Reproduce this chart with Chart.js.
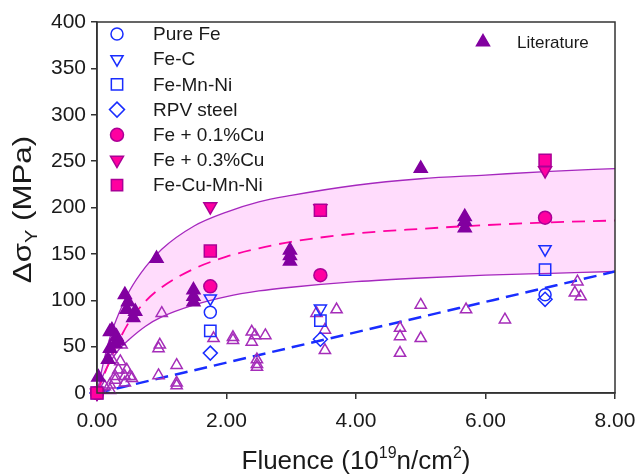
<!DOCTYPE html>
<html>
<head>
<meta charset="utf-8">
<script src="https://cdn.jsdelivr.net/npm/chart.js@4.4.1/dist/chart.umd.min.js"></script>
<style>
  html, body { margin: 0; padding: 0; background: #fff; }
  #wrap { width: 638px; height: 474px; }
</style>
</head>
<body>
<div id="wrap"><canvas id="myChart"></canvas></div>
<script>
// fitted trend curves
const curveX = [0, 0.1, 0.2, 0.35, 0.5, 0.75, 1, 1.5, 2, 2.5, 3, 4, 5, 6, 7, 8];
const upperBand = [0, 33, 60, 88, 110, 136, 155, 180, 195, 206, 213, 224, 231, 235, 239, 242];
const lowerBand = [0, 20, 33, 48, 58, 72, 82, 95, 104, 110, 114, 120, 124, 127, 129, 131];
const cuTrend = [0, 18, 35, 58, 77, 99, 114, 134, 147, 156, 163, 172, 177, 181, 184, 186];
const noCuX = [0, 8];
const noCuTrend = [0, 131];

// measured alloys
const pureFeX = [0, 1.75, 6.92];
const pureFeY = [0, 87, 106];
const feCX = [0, 1.75, 3.45, 6.92];
const feCY = [0, 102, 91, 155];
const feMnNiX = [0, 1.75, 3.45, 6.92];
const feMnNiY = [0, 67, 78, 133];
const rpvX = [0, 1.75, 3.45, 6.92];
const rpvY = [0, 43, 58, 101];
const cu01X = [0, 1.75, 3.45, 6.92];
const cu01Y = [0, 115, 127, 189];
const cu03X = [0, 1.75, 3.45, 6.92];
const cu03Y = [0, 201, 199, 240];
const cuMnNiX = [0, 1.75, 3.45, 6.92];
const cuMnNiY = [0, 153, 197, 251];

// literature (filled = Cu containing, open = low Cu)
const litFilledX = [0.02, 0.17, 0.2, 0.2, 0.23, 0.28, 0.3, 0.33, 0.43, 0.46, 0.48, 0.56, 0.59, 0.92, 1.49, 1.49, 1.49, 2.98, 2.98, 2.98, 5.0, 5.68, 5.68, 5.68];
const litFilledY = [17, 36, 48, 66, 68, 53, 61, 56, 106, 90, 98, 81, 88, 145, 111, 104, 98, 154, 148, 142, 242, 190, 185, 178];
const litOpenX = [0.12, 0.2, 0.2, 0.23, 0.28, 0.28, 0.33, 0.36, 0.38, 0.43, 0.43, 0.46, 0.51, 0.54, 0.95, 0.95, 0.97, 1.0, 1.23, 1.23, 1.23, 1.8, 2.1, 2.1, 2.39, 2.44, 2.39, 2.6, 2.47, 2.47, 2.47, 3.39, 3.52, 3.52, 3.7, 4.68, 4.68, 4.68, 5.0, 5.0, 5.7, 6.3, 7.42, 7.38, 7.47];
const litOpenY = [7, 9, 3, 36, 18, 14, 25, 34, 52, 11, 18, 25, 18, 16, 19, 48, 52, 86, 30, 11, 8, 59, 57, 60, 66, 62, 55, 62, 36, 31, 28, 86, 68, 46, 90, 70, 61, 43, 95, 59, 90, 79, 120, 108, 104];

const BLUE = 'rgb(25, 45, 255)';
const PINK = 'rgb(255, 0, 160)';
const PINK_EDGE = 'rgb(170, 0, 150)';
const PURPLE = 'rgb(130, 0, 160)';
const PURPLE_OPEN = 'rgb(165, 45, 185)';
const BAND_LINE = 'rgb(165, 40, 190)';
const BAND_FILL = 'rgb(255, 220, 252)';

const pts = (xs, ys) => xs.map((x, i) => ({ x: x, y: ys[i] }));

function marker(label, xs, ys, style, radius, fill, edge, rot) {
    return {
        label: label,
        data: pts(xs, ys),
        pointStyle: style,
        pointRadius: radius,
        pointRotation: rot || 0,
        pointBackgroundColor: fill,
        pointBorderColor: edge,
        pointBorderWidth: 1.5,
        showLine: false,
        clip: false
    };
}

function curve(xs, ys, color, width, dash) {
    return {
        type: 'line',
        data: pts(xs, ys),
        borderColor: color,
        borderWidth: width,
        borderDash: dash || [],
        pointRadius: 0,
        cubicInterpolationMode: 'monotone',
        fill: false
    };
}

const datasets = [
    marker('Fe-Cu-Mn-Ni', cuMnNiX, cuMnNiY, 'rect', 8.5, PINK, PINK_EDGE),
    marker('Fe + 0.3%Cu', cu03X, cu03Y, 'triangle', 7.5, PINK, PINK_EDGE, 180),
    marker('Fe + 0.1%Cu', cu01X, cu01Y, 'circle', 6.5, PINK, PINK_EDGE),
    marker('RPV steel', rpvX, rpvY, 'rectRot', 7, 'rgba(255,255,255,0)', BLUE),
    marker('Fe-Mn-Ni', feMnNiX, feMnNiY, 'rect', 8, 'rgba(255,255,255,0)', BLUE),
    marker('Fe-C', feCX, feCY, 'triangle', 7, 'rgba(255,255,255,0)', BLUE, 180),
    marker('Pure Fe', pureFeX, pureFeY, 'circle', 6, 'rgba(255,255,255,0)', BLUE),
    marker('Literature', litFilledX, litFilledY, 'triangle', 7.5, PURPLE, PURPLE),
    marker('Literature (open)', litOpenX, litOpenY, 'triangle', 6.5, 'rgba(255,255,255,0)', PURPLE_OPEN),
    curve(noCuX, noCuTrend, BLUE, 2.5, [13, 7]),
    curve(curveX, cuTrend, PINK, 1.8, [13, 8]),
    Object.assign(curve(curveX, upperBand, BAND_LINE, 1.3), { fill: '+1', backgroundColor: BAND_FILL }),
    curve(curveX, lowerBand, BAND_LINE, 1.3)
];

const legendItems = [
    { text: 'Pure Fe', style: 'circle', r: 6, fill: 'rgba(0,0,0,0)', edge: BLUE, rot: 0 },
    { text: 'Fe-C', style: 'triangle', r: 7, fill: 'rgba(0,0,0,0)', edge: BLUE, rot: 180 },
    { text: 'Fe-Mn-Ni', style: 'rect', r: 8, fill: 'rgba(0,0,0,0)', edge: BLUE, rot: 0 },
    { text: 'RPV steel', style: 'rectRot', r: 7.5, fill: 'rgba(0,0,0,0)', edge: BLUE, rot: 0 },
    { text: 'Fe + 0.1%Cu', style: 'circle', r: 6.5, fill: PINK, edge: PINK_EDGE, rot: 0 },
    { text: 'Fe + 0.3%Cu', style: 'triangle', r: 7.5, fill: PINK, edge: PINK_EDGE, rot: 180 },
    { text: 'Fe-Cu-Mn-Ni', style: 'rect', r: 8, fill: PINK, edge: PINK_EDGE, rot: 0 }
];

const FONT = '"Liberation Sans", Arial, sans-serif';

function drawSymbol(ctx, item, x, y) {
    ctx.save();
    ctx.fillStyle = item.fill;
    ctx.strokeStyle = item.edge;
    ctx.lineWidth = 1.5;
    Chart.helpers.drawPoint(ctx, { pointStyle: item.style, radius: item.r, rotation: item.rot, borderWidth: 1.5 }, x, y);
    ctx.restore();
}

const decorations = {
    id: 'decorations',
    afterDraw(chart) {
        const ctx = chart.ctx;
        const a = chart.chartArea;
        // frame
        ctx.save();
        ctx.strokeStyle = '#333';
        ctx.lineWidth = 1.5;
        ctx.strokeRect(a.left, a.top, a.right - a.left, a.bottom - a.top);
        ctx.restore();

        // legend block
        ctx.save();
        ctx.fillStyle = '#1a1a1a';
        ctx.font = '19px ' + FONT;
        ctx.textBaseline = 'middle';
        legendItems.forEach((item, i) => {
            const y = 34 + i * 25.2;
            drawSymbol(ctx, item, 117, y);
            ctx.fillText(item.text, 153, y + 1);
        });
        drawSymbol(ctx, { style: 'triangle', r: 7.5, fill: PURPLE, edge: PURPLE, rot: 0 }, 483, 42);
        ctx.font = '17px ' + FONT;
        ctx.fillText('Literature', 517, 43);
        ctx.restore();

        // x axis title with superscripts
        ctx.save();
        ctx.fillStyle = '#1a1a1a';
        ctx.textBaseline = 'alphabetic';
        const big = '26px ' + FONT, small = '16px ' + FONT;
        const parts = [['Fluence (10', big, 0], ['19', small, -11], ['n/cm', big, 0], ['2', small, -11], [')', big, 0]];
        let w = 0;
        parts.forEach(p => { ctx.font = p[1]; w += ctx.measureText(p[0]).width; });
        let x = (a.left + a.right) / 2 - w / 2;
        parts.forEach(p => { ctx.font = p[1]; ctx.fillText(p[0], x, 469 + p[2]); x += ctx.measureText(p[0]).width; });
        ctx.restore();

        // y axis title with subscript, stretched along its length like the source
        ctx.save();
        ctx.fillStyle = '#1a1a1a';
        ctx.translate(31, (a.top + a.bottom) / 2 + 2);
        ctx.rotate(-Math.PI / 2);
        ctx.scale(1.25, 1);
        const ybig = '25px ' + FONT, ysmall = '16px ' + FONT;
        const yparts = [['\u0394\u03c3', ybig, 0], ['Y', ysmall, 6], [' (MPa)', ybig, 0]];
        w = 0;
        yparts.forEach(p => { ctx.font = p[1]; w += ctx.measureText(p[0]).width; });
        x = -w / 2;
        yparts.forEach(p => { ctx.font = p[1]; ctx.fillText(p[0], x, p[2]); x += ctx.measureText(p[0]).width; });
        ctx.restore();
    }
};

new Chart(document.getElementById('myChart'), {
    type: 'scatter',
    data: { datasets: datasets },
    plugins: [decorations],
    options: {
        responsive: true,
        maintainAspectRatio: false,
        animation: false,
        layout: { padding: { left: 0, top: 22, right: 23, bottom: 0 } },
        scales: {
            x: {
                type: 'linear',
                min: 0,
                max: 8,
                afterFit: (scale) => {
                    scale.height = 81;
                    scale.paddingLeft = 0;
                    scale.paddingRight = 0;
                },
                ticks: {
                    stepSize: 2,
                    color: '#1a1a1a',
                    font: { size: 21, family: FONT },
                    padding: 10,
                    maxRotation: 0,
                    callback: (v) => v.toFixed(2)
                },
                grid: { drawOnChartArea: false, tickLength: 6, color: '#333', lineWidth: 1.5 },
                border: { color: '#333', width: 1.5 }
            },
            y: {
                min: 0,
                max: 400,
                afterFit: (scale) => {
                    scale.width = 97;
                    scale.paddingTop = 0;
                    scale.paddingBottom = 0;
                },
                ticks: {
                    stepSize: 50,
                    color: '#1a1a1a',
                    font: { size: 21, family: FONT },
                    padding: 5
                },
                grid: { drawOnChartArea: false, tickLength: 6, color: '#333', lineWidth: 1.5 },
                border: { color: '#333', width: 1.5 }
            }
        },
        plugins: {
            legend: { display: false },
            tooltip: { enabled: false },
            filler: { drawTime: 'beforeDatasetsDraw' }
        }
    }
});
</script>
</body>
</html>
